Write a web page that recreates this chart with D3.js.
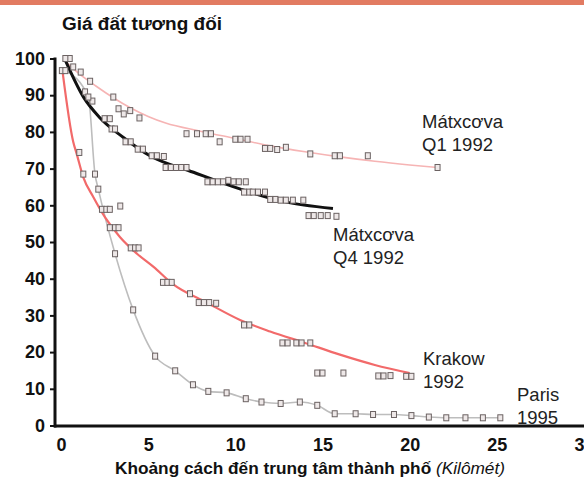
<!DOCTYPE html>
<html>
<head>
<meta charset="utf-8">
<script src="https://cdn.jsdelivr.net/npm/d3@7"></script>
<style>
  html, body { margin: 0; padding: 0; background: #fff; }
  svg { display: block; font-family: "Liberation Sans", Arial, Helvetica, sans-serif; }
</style>
</head>
<body>
<svg id="chart" width="584" height="493"></svg>
<script>
// Axis ticks
const xTicks = [0, 5, 10, 15, 20, 25, 30];
const yTicks = [0, 10, 20, 30, 40, 50, 60, 70, 80, 90, 100];

// Observations: [distance km, relative land price]
const moscowQ1 = [[0.5,100],[0.7,97.7],[1.13,96.3],[1.67,93.8],[3.0,89.5],[3.3,86.3],[3.6,84.9],[3.97,85.8],[4.5,83.8],
  [7.2,79.5],[7.8,79.5],[8.3,79.5],[8.6,79.5],[9.1,77.3],[10.0,78],[10.3,78],[10.7,78],[11.7,75.5],[12.0,75.5],
  [12.4,75.2],[12.9,75.8],[14.3,74],[15.7,73.5],[16.0,73.5],[17.6,73.5],[21.6,70.3]];
const moscowQ4 = [[0.25,100],[1.38,90.9],[1.8,88.4],[2.5,83.6],[2.8,83.6],[2.9,80.8],[3.1,80.8],[3.7,77.3],[4.0,77.3],
  [4.4,75.3],[4.7,75.3],[5.2,73.5],[5.5,73.5],[5.9,73.3],[6.0,70.3],[6.3,70.3],[6.6,70.3],[6.9,70.3],[7.2,70.3],
  [8.4,66.4],[8.7,66.4],[9.0,66.4],[9.3,66.4],[9.6,66.8],[9.9,66.4],[10.2,66.4],[10.6,66.4],[10.5,63.6],[10.8,63.6],
  [11.0,63.6],[11.3,63.6],[11.7,63.6],[12.0,61.6],[12.3,61.6],[12.6,61.4],[12.9,61.4],[13.3,61.4],[13.9,61.4],
  [14.2,57.2],[14.5,57.2],[14.9,57.2],[15.3,57.2],[15.8,57.0]];
const krakow = [[0.05,96.7],[1.05,74.4],[1.28,68.5],[2.35,58.9],[2.6,58.9],[2.8,58.9],[3.4,59.8],[2.8,53.9],[3.1,53.9],
  [3.3,53.9],[4.0,48.4],[4.25,48.4],[4.45,48.4],[5.85,39],[6.1,39],[6.35,39],[7.4,35.9],[7.9,33.5],[8.2,33.5],[8.5,33.5],
  [8.9,33.3],[10.5,27.4],[10.8,27.4],[12.7,22.5],[13.0,22.5],[13.5,22.5],[13.8,22.5],[14.3,22.5],[14.7,14.3],[15.0,14.3],
  [16.2,14.3],[18.2,13.5],[18.5,13.5],[18.9,13.6],[19.8,13.4],[20.1,13.4]];
const paris = [[0.25,96.7],[1.57,89.5],[1.95,68.5],[2.14,64.4],[3.1,46.8],[4.14,31.5],[5.4,18.9],[6.55,14.9],[7.57,11.1],
  [8.45,9.3],[9.5,8.9],[10.6,7.3],[11.5,6.4],[12.6,6.0],[13.7,6.4],[14.7,5.5],[15.7,3.2],[16.9,3.2],[17.9,3.0],
  [19.1,3.0],[20.1,2.7],[21.1,2.3],[22.1,2.1],[23.2,2.1],[24.2,2.1],[25.2,2.1]];

// Fitted trend curves
const moscowQ1Trend = [[0.3,99],[1,96],[2,92.5],[3,89.3],[4,86.5],[5,84.2],[6,82.4],[8,80.2],[10,78.2],[12,76.2],
  [14,74.6],[16,73.2],[18,72],[20,71],[21.6,70.3]];
const moscowQ4Trend = [[0.25,99.5],[1.3,89.4],[2.2,84],[3.6,78.4],[5.1,73.5],[7.6,69],[10.3,64.4],[12.6,61.2],[15.6,59.1]];
const krakowTrend = [[0.1,96],[0.7,77.3],[0.9,74],[1.28,67.6],[1.86,62.2],[2.53,56.7],[3.39,51.3],[4.36,46.8],[5.31,43.2],
  [6.4,38.6],[8.4,33.4],[10.3,28.7],[12,25.6],[14,22.5],[16,19.3],[18,16.5],[20,14.3]];

// Series labels
const labelQ1 = ["Mátxcơva", "Q1 1992"];
const labelQ4 = ["Mátxcơva", "Q4 1992"];
const labelKrakow = ["Krakow", "1992"];
const labelParis = ["Paris", "1995"];

const titleText = "Giá đất tương đối";
const xTitleMain = "Khoảng cách đến trung tâm thành phố";
const xTitleUnit = "(Kilômét)";

const svg = d3.select("#chart");
const W = 584, H = 493;

const x = d3.scaleLinear().domain([0, 30]).range([61, 584]);
const y = d3.scaleLinear().domain([0, 100]).range([425.5, 58.5]);

// top band
svg.append("rect").attr("x", 0).attr("y", 0).attr("width", W).attr("height", 5).attr("fill", "#e27b62");

// title
svg.append("text").attr("x", 62).attr("y", 30)
  .attr("font-size", 17.5).attr("font-weight", "bold").attr("fill", "#111")
  .attr("textLength", 160).attr("lengthAdjust", "spacingAndGlyphs")
  .text(titleText);

// y axis
const yAxis = d3.axisLeft(y).tickValues(yTicks).tickSize(5).tickPadding(5).tickFormat(d3.format("d"));
const gy = svg.append("g").attr("transform", "translate(55,0)").call(yAxis);
gy.select(".domain").remove();
gy.selectAll(".tick line").attr("stroke", "#111").attr("stroke-width", 2);
gy.selectAll(".tick text").attr("font-size", 18).attr("font-weight", "bold").attr("fill", "#111")
  .attr("font-family", null);
svg.append("line").attr("x1", 55).attr("x2", 55).attr("y1", y(100) - 1).attr("y2", y(0) + 2)
  .attr("stroke", "#111").attr("stroke-width", 3);

// x axis
const xAxis = d3.axisBottom(x).tickValues(xTicks).tickSize(0).tickPadding(13).tickFormat(d3.format("d"));
const gx = svg.append("g").attr("transform", `translate(0,${y(0)})`).call(xAxis);
gx.select(".domain").remove();
gx.selectAll(".tick text").attr("font-size", 18).attr("font-weight", "bold").attr("fill", "#111")
  .attr("font-family", null);
svg.append("line").attr("x1", 54).attr("x2", W).attr("y1", y(0) + 0.5).attr("y2", y(0) + 0.5)
  .attr("stroke", "#111").attr("stroke-width", 3);

// x axis title
const xt = svg.append("text").attr("x", 115).attr("y", 474).attr("font-size", 16.5).attr("fill", "#111")
  .attr("textLength", 390).attr("lengthAdjust", "spacingAndGlyphs");
xt.append("tspan").attr("font-weight", "bold").text(xTitleMain + " ");
xt.append("tspan").attr("font-style", "italic").text(xTitleUnit);

// lines
const curve = d3.line().x(d => x(d[0])).y(d => y(d[1])).curve(d3.curveMonotoneX);
const plot = svg.append("g");
plot.append("path").datum(paris).attr("d", curve).attr("fill", "none").attr("stroke", "#bdbdbd").attr("stroke-width", 1.6);
plot.append("path").datum(moscowQ1Trend).attr("d", curve).attr("fill", "none").attr("stroke", "#f6b4b4").attr("stroke-width", 1.6);
plot.append("path").datum(krakowTrend).attr("d", curve).attr("fill", "none").attr("stroke", "#f26a6a").attr("stroke-width", 2.2);
plot.append("path").datum(moscowQ4Trend).attr("d", curve).attr("fill", "none").attr("stroke", "#111").attr("stroke-width", 3);

// markers
const allPoints = [].concat(moscowQ1, moscowQ4, krakow, paris);
plot.selectAll("rect.pt").data(allPoints).join("rect").attr("class", "pt")
  .attr("x", d => x(d[0]) - 2.5).attr("y", d => y(d[1]) - 3)
  .attr("width", 5).attr("height", 6)
  .attr("fill", "#eee8e8").attr("stroke", "#6b6262").attr("stroke-width", 1);

// series labels
function label(lines, px, py) {
  const t = svg.append("text").attr("x", px).attr("y", py).attr("font-size", 18.5).attr("fill", "#222");
  lines.forEach((s, i) => t.append("tspan").attr("x", px).attr("dy", i === 0 ? 0 : 23).text(s));
}
label(labelQ1, 422, 128);
label(labelQ4, 333, 241);
label(labelKrakow, 423, 365);
label(labelParis, 517, 401);
</script>
</body>
</html>
